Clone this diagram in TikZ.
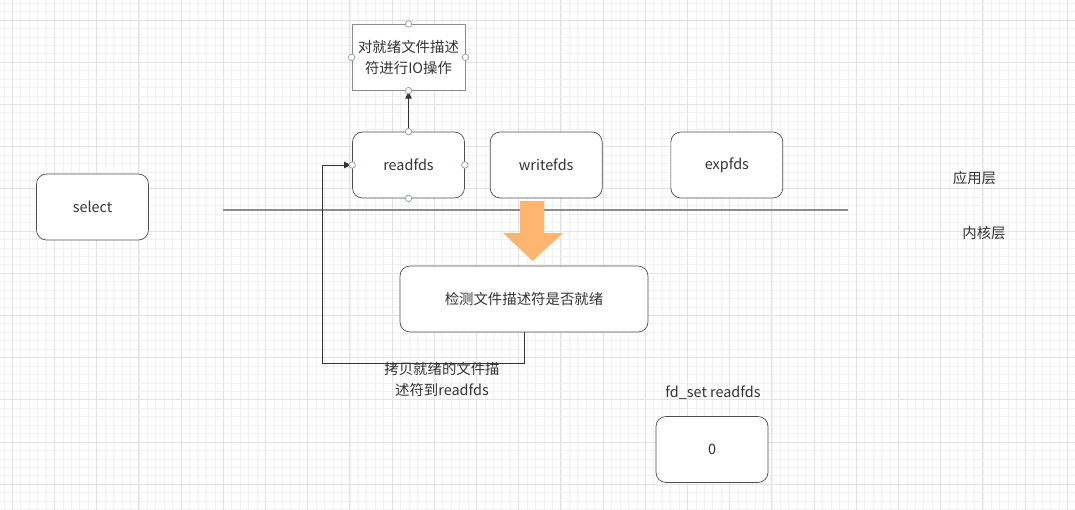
\documentclass[tikz,border=0pt]{standalone}
\usepackage{fontspec}
\setmainfont{Noto Sans CJK SC}
\usetikzlibrary{positioning}
\usetikzlibrary{arrows.meta}

\definecolor{inkgray}{HTML}{333333}
\definecolor{boxline}{HTML}{4D4D4D}
\definecolor{paleline}{HTML}{8C8C8C}
\definecolor{gridmajor}{HTML}{E2E2E2}
\definecolor{gridminor}{HTML}{F1F1F1}
\definecolor{handleline}{HTML}{8A9BB0}
\definecolor{bigarrow}{HTML}{FFB570}

\newcommand{\diagfont}{\fontsize{8.2pt}{12pt}\selectfont}

\begin{document}
\begin{tikzpicture}[
        x=0.02cm, y=0.02cm,
        box/.style={
            draw=boxline,
            rounded corners=0.2cm,
            fill=white,
            minimum width=2.24cm,
            minimum height=1.32cm,
            inner sep=0pt,
            text=inkgray,
            font=\diagfont,
        },
        plainbox/.style={
            draw=paleline,
            fill=white,
            minimum width=2.26cm,
            minimum height=1.32cm,
            inner sep=0pt,
            align=center,
            text=inkgray,
            font=\diagfont,
        },
        caption/.style={
            text=inkgray,
            align=center,
            inner sep=0pt,
            font=\diagfont,
        },
        link/.style={
            -{Latex[length=0.16cm,width=0.14cm]},
            draw=inkgray,
            line width=0.5pt,
        },
        handle/.style={
            draw=handleline,
            fill=white,
            circle,
            inner sep=0pt,
            minimum size=0.13cm,
            line width=0.4pt,
        },
    ]
    \useasboundingbox (0,0) rectangle (1075,-510);
    \fill[white] (0,0) rectangle (1075,-510);

    % Background grid.
    \foreach \i in {-1,...,126}
        \draw[gridminor, line width=0.4pt] ({12.3+8.44*\i},0) -- ({12.3+8.44*\i},-510);
    \foreach \j in {-2,...,58}
        \draw[gridminor, line width=0.4pt] (0,{-20-8.44*\j}) -- (1075,{-20-8.44*\j});
    \foreach \i in {0,...,25}
        \draw[gridmajor, line width=0.5pt] ({12.3+42.2*\i},0) -- ({12.3+42.2*\i},-510);
    \foreach \j in {0,...,11}
        \draw[gridmajor, line width=0.5pt] (0,{-20-42.2*\j}) -- (1075,{-20-42.2*\j});

    % Define boxes.
    \node[box] (select) at (92.5,-207) {select};

    \node[box] (readfds) at (408.5,-165) {readfds};
    \node[box, right=0.5cm of readfds] (writefds) {writefds};
    \node[box, right=1.36cm of writefds] (expfds) {expfds};

    \node[plainbox, above=0.82cm of readfds] (ioop) {对就绪文件描述\\符进行IO操作};

    \node[box, minimum width=4.96cm] (detect) at (524,-299) {检测文件描述符是否就绪};

    \node[box] (zero) at (712,-449.5) {0};

    % Layer labels and divider.
    \coordinate (splitl) at (223,-210);
    \coordinate (splitr) at (848,-210);
    \draw[paleline, line width=0.6pt] (splitl) to (splitr);

    \node[caption] (applayer) at (974.5,-178) {应用层};
    \node[caption] (kernlayer) at (984,-233) {内核层};

    \node[caption] (fdset) at (713,-393) {fd\_set readfds};

    % Draw big arrow.
    \fill[bigarrow] (520,-201) -- (544,-201) -- (544,-233) -- (563,-233)
        -- (532.5,-261) -- (503,-233) -- (520,-233) -- cycle;

    % Draw connectors.
    \coordinate (copyturn) at (322,-363);

    \draw[link] (readfds.north) to (ioop.south);
    \draw[link] (detect.south) |- (copyturn) |- (readfds.west);

    \node[caption] (copylabel) at (442,-379.5) {拷贝就绪的文件描\\述符到readfds};

    % Draw handles.
    \foreach \side in {north, south, east, west} {
        \node[handle] at (ioop.\side) {};
        \node[handle] at (readfds.\side) {};
    }

\end{tikzpicture}
\end{document}
